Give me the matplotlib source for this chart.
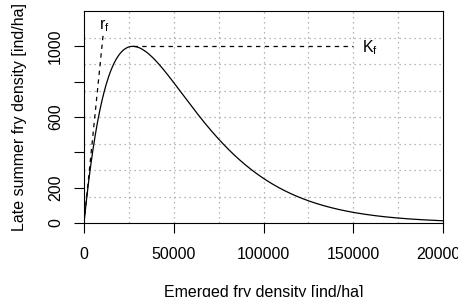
import numpy as np
import matplotlib
matplotlib.use("Agg")
import matplotlib.pyplot as plt

plt.rcParams['font.family'] = ['Liberation Sans', 'DejaVu Sans']
plt.rcParams['mathtext.default'] = 'regular'

# Ricker stock-recruitment parameters
r_f = 0.1          # initial slope (late summer fry per emerged fry)
K_f = 1000         # maximum late summer fry density [ind/ha]
x_max = 200000
y_max = 1200

x_ticks = [0, 50000, 100000, 150000, 200000]
x_ticklabels = ["0", "50000", "100000", "150000", "200000"]
y_ticks = [0, 200, 400, 600, 800, 1000]
y_ticklabels = ["0", "200", "", "600", "", "1000"]

b = r_f / (np.e * K_f)
s_peak = 1 / b
s = np.linspace(0, x_max, 800)
recruits = r_f * s * np.exp(-b * s)
s_slope = np.array([0, 10800])
kf_x = [s_peak, 150000]

fig = plt.figure(figsize=(4.58, 2.97), dpi=100)
ax = fig.add_axes([84 / 458, 1 - 223 / 297, (443 - 84) / 458, (223 - 11) / 297])

# dotted grid, 8 cells each way
for gx in np.linspace(0, x_max, 9)[1:-1]:
    ax.axvline(gx, color='#a0a0a0', lw=0.9, ls=(0, (1, 3)), zorder=1)
for gy in np.linspace(0, y_max, 9)[1:-1]:
    ax.axhline(gy, color='#a0a0a0', lw=0.9, ls=(0, (1, 3)), zorder=1)

ax.plot(s, recruits, color='black', lw=0.9, zorder=3)
ax.plot(s_slope, r_f * s_slope, color='black', lw=0.9, ls=(0, (3.5, 3.5)), zorder=3)
ax.plot(kf_x, [K_f, K_f], color='black', lw=0.9, ls=(0, (3.5, 3.5)), zorder=3)

ax.text(8600, 1115, r'$r_f$', fontsize=11.5, ha='left', va='center')
ax.text(155000, 995, r'$K_f$', fontsize=11.5, ha='left', va='center')

ax.set_xlim(0, x_max)
ax.set_ylim(0, y_max)
ax.set_xticks(x_ticks)
ax.set_xticklabels(x_ticklabels)
ax.set_yticks(y_ticks)
ax.set_yticklabels(y_ticklabels, rotation=90, va='center')
ax.tick_params(axis='both', direction='out', length=7.2, width=0.8, labelsize=11.5, colors='black')
ax.tick_params(axis='x', pad=10)
ax.tick_params(axis='y', pad=8)
for sp in ax.spines.values():
    sp.set_linewidth(0.8)
    sp.set_color('black')

ax.set_xlabel("Emerged fry density [ind/ha]", fontsize=11.5, labelpad=16.5)
ax.set_ylabel("Late summer fry density [ind/ha]", fontsize=11.5, labelpad=15)

fig.savefig("out.png", dpi=100)
